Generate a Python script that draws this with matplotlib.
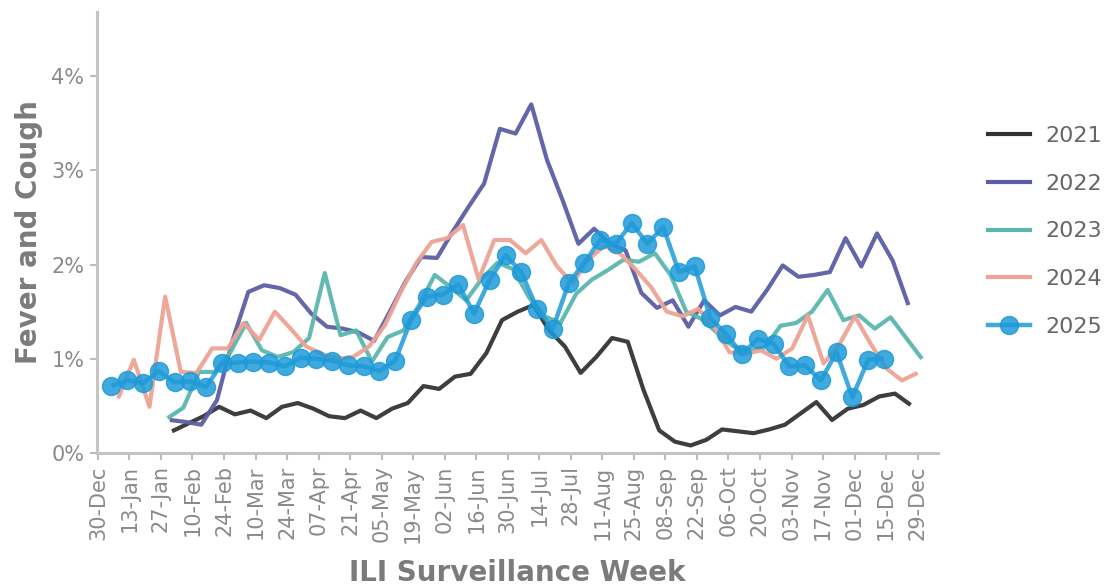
import numpy as np
import matplotlib
matplotlib.use("Agg")
import matplotlib.pyplot as plt
from matplotlib.lines import Line2D

# ---- data ----
tick_labels = ["30-Dec", "13-Jan", "27-Jan", "10-Feb", "24-Feb", "10-Mar", "24-Mar",
               "07-Apr", "21-Apr", "05-May", "19-May", "02-Jun", "16-Jun", "30-Jun",
               "14-Jul", "28-Jul", "11-Aug", "25-Aug", "08-Sep", "22-Sep", "06-Oct",
               "20-Oct", "03-Nov", "17-Nov", "01-Dec", "15-Dec", "29-Dec"]
y_tick_labels = ["0%", "1%", "2%", "3%", "4%"]
years = ["2021", "2022", "2023", "2024", "2025"]

vals_2021 = [0.23, 0.31, 0.39, 0.49, 0.41, 0.45, 0.37, 0.49, 0.53, 0.47,
             0.39, 0.37, 0.45, 0.37, 0.47, 0.53, 0.71, 0.68, 0.81, 0.84,
             1.06, 1.41, 1.50, 1.57, 1.30, 1.13, 0.85, 1.02, 1.22, 1.18,
             0.67, 0.24, 0.12, 0.08, 0.14, 0.25, 0.23, 0.21, 0.25, 0.30,
             0.42, 0.54, 0.35, 0.47, 0.51, 0.60, 0.63, 0.51]
vals_2022 = [0.35, 0.33, 0.30, 0.56, 1.20, 1.71, 1.78, 1.75, 1.68, 1.48,
             1.34, 1.32, 1.28, 1.19, 1.50, 1.82, 2.08, 2.07, 2.35, 2.61,
             2.86, 3.44, 3.39, 3.70, 3.11, 2.68, 2.22, 2.38, 2.22, 2.15,
             1.70, 1.54, 1.62, 1.34, 1.62, 1.46, 1.55, 1.50, 1.73, 1.99,
             1.87, 1.89, 1.92, 2.28, 1.98, 2.33, 2.04, 1.57]
vals_2023 = [0.37, 0.48, 0.86, 0.86, 1.07, 1.38, 1.09, 1.02, 1.07, 1.22,
             1.91, 1.25, 1.30, 0.97, 1.23, 1.30, 1.57, 1.89, 1.76, 1.62,
             1.85, 2.02, 1.95, 1.65, 1.45, 1.38, 1.69, 1.84, 1.94, 2.05,
             2.03, 2.12, 1.89, 1.50, 1.42, 1.27, 1.13, 1.09, 1.12, 1.35,
             1.38, 1.50, 1.73, 1.41, 1.46, 1.32, 1.44, 1.22, 1.00]
vals_2024 = [0.58, 0.99, 0.49, 1.66, 0.86, 0.85, 1.11, 1.11, 1.38, 1.20,
             1.50, 1.32, 1.13, 1.05, 1.00, 1.02, 1.13, 1.35, 1.70, 2.01,
             2.24, 2.28, 2.42, 1.84, 2.26, 2.26, 2.12, 2.26, 1.98, 1.80,
             2.05, 2.20, 2.12, 1.95, 1.76, 1.50, 1.45, 1.53, 1.35, 1.07,
             1.05, 1.09, 1.00, 1.11, 1.46, 0.95, 1.15, 1.45, 1.16, 0.90,
             0.77, 0.85]
vals_2025 = [0.71, 0.77, 0.74, 0.87, 0.75, 0.76, 0.70, 0.95, 0.96, 0.97,
             0.96, 0.92, 1.01, 1.00, 0.98, 0.93, 0.92, 0.87, 0.98, 1.41,
             1.66, 1.68, 1.79, 1.48, 1.84, 2.10, 1.92, 1.53, 1.32, 1.80,
             2.02, 2.26, 2.22, 2.44, 2.22, 2.40, 1.92, 1.98, 1.43, 1.26,
             1.05, 1.21, 1.16, 0.92, 0.93, 0.77, 1.07, 0.59, 0.99, 1.00]

series = {"2021": vals_2021, "2022": vals_2022, "2023": vals_2023,
          "2024": vals_2024, "2025": vals_2025}

# ---- placement / style (weeks from 30-Dec) ----
first_pos = {"2021": 4.70, "2022": 4.56, "2023": 4.42, "2024": 1.28, "2025": 0.86}
step = {"2021": 0.997, "2022": 0.997, "2023": 0.997, "2024": 0.9945, "2025": 1.0}
colors = {"2021": "#333333", "2022": "#5b5ea3", "2023": "#5ab7ae",
          "2024": "#eda395", "2025": "#1e9ad8"}

gray = "#8a8a8a"
fig = plt.figure(figsize=(11.07, 5.86), dpi=100)
ax = fig.add_axes([0.0876, 0.227, 0.7594, 0.7525])

for yr in years:
    v = np.array(series[yr])
    x = first_pos[yr] + np.arange(len(v)) * step[yr]
    if yr == "2025":
        ax.plot(x, v, color=colors[yr], lw=3.2, marker="o", markersize=13,
                alpha=0.85, zorder=5, solid_capstyle="butt")
    else:
        ax.plot(x, v, color=colors[yr], lw=3.0, alpha=0.95, zorder=3,
                solid_capstyle="butt")

ax.set_xlim(-0.06, 53.27)
ax.set_ylim(0, 4.68)
ax.set_xticks(np.arange(len(tick_labels)) * 2)
ax.set_xticklabels(tick_labels, rotation=90, fontsize=15, color=gray)
ax.set_yticks(np.arange(len(y_tick_labels)))
ax.set_yticklabels(y_tick_labels, fontsize=15, color=gray)
ax.tick_params(axis="both", colors="#bbbbbb", length=5, width=1.5,
               labelcolor=gray, pad=4)

for s in ["top", "right"]:
    ax.spines[s].set_visible(False)
for s in ["left", "bottom"]:
    ax.spines[s].set_color("#c4c4c4")
    ax.spines[s].set_linewidth(2.2)

ax.set_xlabel("ILI Surveillance Week", fontsize=20, fontweight="bold",
              color="#7b7b7b", labelpad=12)
ax.set_ylabel("Fever and Cough", fontsize=20, fontweight="bold",
              color="#7b7b7b", labelpad=6)

handles = []
for yr in years:
    if yr == "2025":
        handles.append(Line2D([], [], color=colors[yr], lw=3.2, marker="o",
                              markersize=13, alpha=0.85))
    else:
        handles.append(Line2D([], [], color=colors[yr], lw=3.0))
leg = fig.legend(handles, years, loc="center left", bbox_to_anchor=(0.874, 0.605),
                 frameon=False, fontsize=16, handlelength=1.9, handletextpad=0.7,
                 labelspacing=1.25)
for t in leg.get_texts():
    t.set_color("#666666")

fig.savefig("out.png", dpi=100)
